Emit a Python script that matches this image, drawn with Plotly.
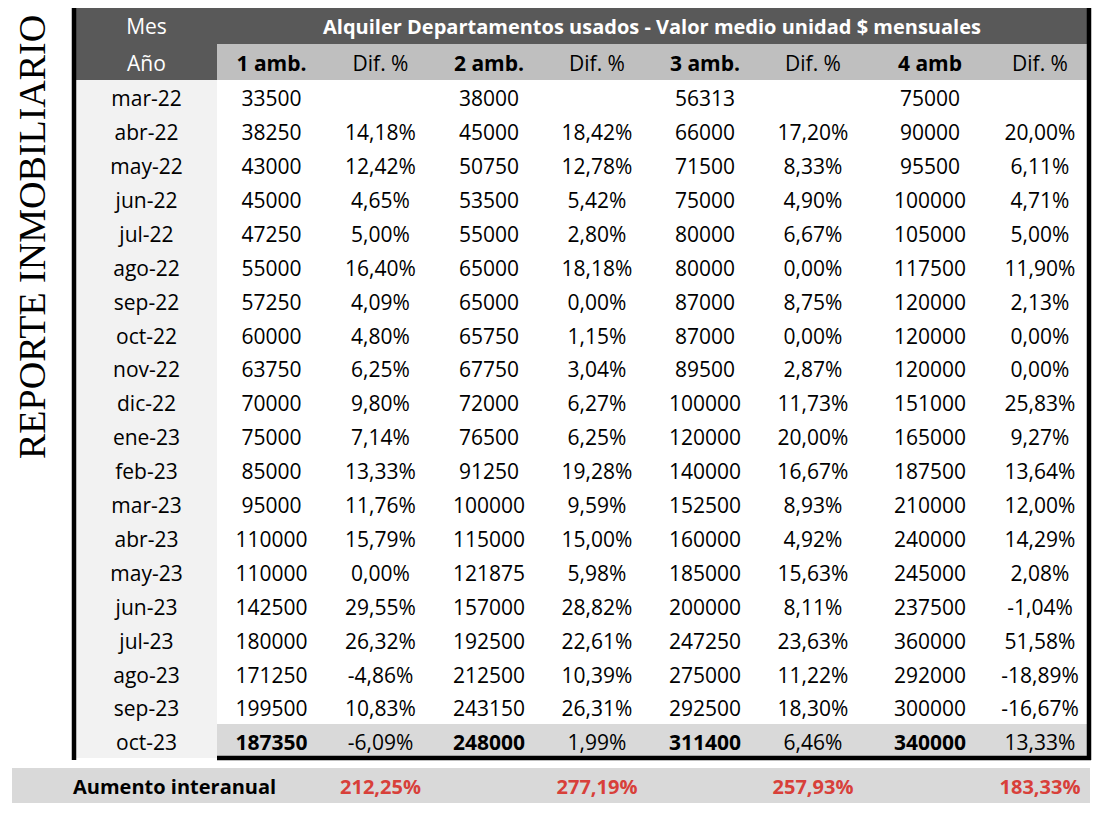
import plotly.graph_objects as go

# ---------------- data ----------------
meses = ['mar-22', 'abr-22', 'may-22', 'jun-22', 'jul-22', 'ago-22', 'sep-22', 'oct-22', 'nov-22', 'dic-22',
         'ene-23', 'feb-23', 'mar-23', 'abr-23', 'may-23', 'jun-23', 'jul-23', 'ago-23', 'sep-23', 'oct-23']
amb1 = [33500, 38250, 43000, 45000, 47250, 55000, 57250, 60000, 63750, 70000,
        75000, 85000, 95000, 110000, 110000, 142500, 180000, 171250, 199500, 187350]
dif1 = [None, 14.18, 12.42, 4.65, 5.00, 16.40, 4.09, 4.80, 6.25, 9.80,
        7.14, 13.33, 11.76, 15.79, 0.00, 29.55, 26.32, -4.86, 10.83, -6.09]
amb2 = [38000, 45000, 50750, 53500, 55000, 65000, 65000, 65750, 67750, 72000,
        76500, 91250, 100000, 115000, 121875, 157000, 192500, 212500, 243150, 248000]
dif2 = [None, 18.42, 12.78, 5.42, 2.80, 18.18, 0.00, 1.15, 3.04, 6.27,
        6.25, 19.28, 9.59, 15.00, 5.98, 28.82, 22.61, 10.39, 26.31, 1.99]
amb3 = [56313, 66000, 71500, 75000, 80000, 80000, 87000, 87000, 89500, 100000,
        120000, 140000, 152500, 160000, 185000, 200000, 247250, 275000, 292500, 311400]
dif3 = [None, 17.20, 8.33, 4.90, 6.67, 0.00, 8.75, 0.00, 2.87, 11.73,
        20.00, 16.67, 8.93, 4.92, 15.63, 8.11, 23.63, 11.22, 18.30, 6.46]
amb4 = [75000, 90000, 95500, 100000, 105000, 117500, 120000, 120000, 120000, 151000,
        165000, 187500, 210000, 240000, 245000, 237500, 360000, 292000, 300000, 340000]
dif4 = [None, 20.00, 6.11, 4.71, 5.00, 11.90, 2.13, 0.00, 0.00, 25.83,
        9.27, 13.64, 12.00, 14.29, 2.08, -1.04, 51.58, -18.89, -16.67, 13.33]
col_headers = ['1 amb.', 'Dif. %', '2 amb.', 'Dif. %', '3 amb.', 'Dif. %', '4 amb', 'Dif. %']
interanual = [212.25, 277.19, 257.93, 183.33]
title = 'Alquiler Departamentos usados - Valor medio unidad $ mensuales'
side_label = 'REPORTE INMOBILIARIO'

# ---------------- layout grid (page pixels) ----------------
PAGE_W, PAGE_H = 1100, 816
BODY_MARGIN = 8  # default page margin around the figure div
W, H = PAGE_W - 2 * BODY_MARGIN, PAGE_H - 2 * BODY_MARGIN

col_edges = [76, 217, 326, 435, 543, 651, 759, 867, 993, 1087]
h1_top, h2_top, body_top, row_h = 5, 44, 80, 33.9
n = len(meses)
body_bot = body_top + n * row_h
band_top, band_bot = 768, 803
TEXT_DY = 4  # optical baseline correction for the font

FONT = 'Open Sans'
FS = 21
DARK = '#595959'
LIGHT = '#bfbfbf'
FIRSTCOL = '#f2f2f2'
LASTROW = '#d9d9d9'
RED = '#d8403a'

def ccenter(i):
    return (col_edges[i] + col_edges[i + 1]) / 2

def rcenter(r):
    return body_top + r * row_h + row_h / 2 + TEXT_DY

def fmt_int(v):
    return '' if v is None else str(v)

def fmt_pct(v):
    return '' if v is None else ('%.2f%%' % v).replace('.', ',')

fig = go.Figure()
shapes = []

def rect(x0, y0, x1, y1, color):
    shapes.append(dict(type='rect', xref='x', yref='y', x0=x0, y0=y0, x1=x1, y1=y1,
                       fillcolor=color, line=dict(width=0), layer='below'))

def line(x0, y0, x1, y1, w=4.5, color='black'):
    shapes.append(dict(type='line', xref='x', yref='y', x0=x0, y0=y0, x1=x1, y1=y1,
                       line=dict(color=color, width=w), layer='above'))

# backgrounds
rect(col_edges[0], h1_top, col_edges[-1], h2_top, DARK)
rect(col_edges[0], h2_top, col_edges[1], body_top, DARK)
rect(col_edges[1], h2_top, col_edges[-1], body_top, LIGHT)
rect(col_edges[0], body_top, col_edges[1], body_bot, FIRSTCOL)
rect(col_edges[1], body_top + (n - 1) * row_h, col_edges[-1], body_bot, LASTROW)
rect(12, band_top, 1090, band_bot, LASTROW)

# borders
line(col_edges[0] - 2, h1_top - 0.5, col_edges[-1] + 2, h1_top - 0.5)
line(col_edges[0] - 2, h1_top - 2, col_edges[0] - 2, body_bot + 2)
line(col_edges[-1] + 2, h1_top - 2, col_edges[-1] + 2, body_bot + 2)
line(col_edges[1], body_bot, col_edges[-1] + 4, body_bot)

h1_y = (h1_top + h2_top) / 2 + TEXT_DY
h2_y = (h2_top + body_top) / 2 + TEXT_DY

# header text
fig.add_trace(go.Scatter(
    x=[ccenter(0), ccenter(0)], y=[h1_y, h2_y],
    text=['Mes', 'Año'],
    mode='text', textposition='middle center',
    textfont=dict(family=FONT, size=FS, color='white'),
    hoverinfo='skip', showlegend=False))
fig.add_trace(go.Scatter(
    x=[(col_edges[1] + col_edges[-1]) / 2], y=[h1_y],
    text=['<b>' + title + '</b>'],
    mode='text', textposition='middle center',
    textfont=dict(family=FONT, size=FS - 1, color='white'),
    hoverinfo='skip', showlegend=False))

hx = [ccenter(i + 1) for i in range(8)]
fig.add_trace(go.Scatter(
    x=hx, y=[h2_y] * 8,
    text=[('<b>%s</b>' % t) if i % 2 == 0 else t for i, t in enumerate(col_headers)],
    mode='text', textposition='middle center',
    textfont=dict(family=FONT, size=FS, color='black'),
    hoverinfo='skip', showlegend=False))

# month column
fig.add_trace(go.Scatter(
    x=[ccenter(0)] * n, y=[rcenter(r) for r in range(n)], text=meses,
    mode='text', textposition='middle center',
    textfont=dict(family=FONT, size=FS, color='black'),
    hoverinfo='skip', showlegend=False))

# value columns
series = [(amb1, True), (dif1, False), (amb2, True), (dif2, False),
          (amb3, True), (dif3, False), (amb4, True), (dif4, False)]
for ci, (vals, is_amount) in enumerate(series):
    txt = []
    for r, v in enumerate(vals):
        s = fmt_int(v) if is_amount else fmt_pct(v)
        if is_amount and r == n - 1:
            s = '<b>' + s + '</b>'
        txt.append(s)
    fig.add_trace(go.Scatter(
        x=[ccenter(ci + 1)] * n, y=[rcenter(r) for r in range(n)], text=txt,
        mode='text', textposition='middle center',
        textfont=dict(family=FONT, size=FS, color='black'),
        hoverinfo='skip', showlegend=False))

# bottom band
band_y = (band_top + band_bot) / 2 + TEXT_DY - 1
fig.add_trace(go.Scatter(
    x=[73], y=[band_y], text=['<b>Aumento interanual</b>'],
    mode='text', textposition='middle right',
    textfont=dict(family=FONT, size=FS - 1, color='black'),
    hoverinfo='skip', showlegend=False))
fig.add_trace(go.Scatter(
    x=[ccenter(2), ccenter(4), ccenter(6), ccenter(8)], y=[band_y] * 4,
    text=['<b>%s</b>' % fmt_pct(v) for v in interanual],
    mode='text', textposition='middle center',
    textfont=dict(family=FONT, size=FS - 1, color=RED),
    hoverinfo='skip', showlegend=False))

fig.update_layout(
    width=W, height=H,
    margin=dict(l=0, r=0, t=0, b=0),
    paper_bgcolor='white', plot_bgcolor='white',
    xaxis=dict(range=[BODY_MARGIN, BODY_MARGIN + W], visible=False, fixedrange=True),
    yaxis=dict(range=[BODY_MARGIN + H, BODY_MARGIN], visible=False, fixedrange=True),
    shapes=shapes,
    annotations=[dict(x=32, y=237, xref='x', yref='y', text=side_label, textangle=-90,
                      showarrow=False, font=dict(family='Liberation Serif', size=38, color='black'))],
)

fig.write_html('out.html')
